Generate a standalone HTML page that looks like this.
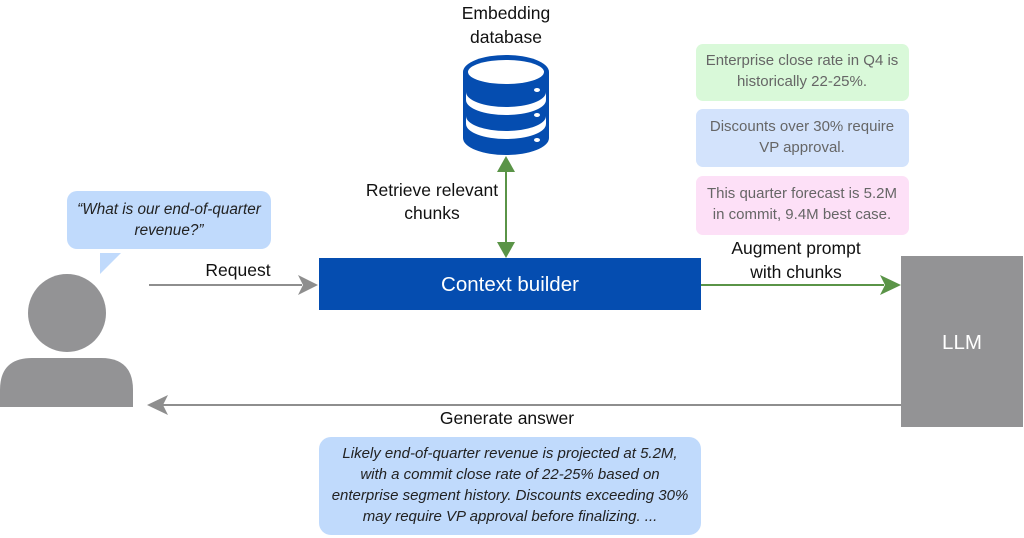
<!DOCTYPE html>
<html><head><meta charset="utf-8"><style>html,body{margin:0;padding:0;background:#fff}svg{display:block}text{font-family:"Liberation Sans",Arial,sans-serif}</style></head>
<body>
<svg width="1024" height="538" viewBox="0 0 1024 538" xmlns="http://www.w3.org/2000/svg">
<!-- person -->
<circle cx="67" cy="313" r="39" fill="#939395"/>
<path d="M0,407 L0,390 Q0,358 32,358 L101,358 Q133,358 133,390 L133,407 Z" fill="#939395"/>
<!-- bubble -->
<rect x="67" y="191" width="204" height="58" rx="10" fill="#c0dafc"/>
<polygon points="100,253 121,253 100,274" fill="#c0dafc"/>
<text x="169" y="214" font-size="15.3" font-style="italic" text-anchor="middle" fill="#222">“What is our end-of-quarter</text>
<text x="169" y="235" font-size="15.3" font-style="italic" text-anchor="middle" fill="#222">revenue?”</text>
<!-- request arrow -->
<line x1="149" y1="285" x2="302" y2="285" stroke="#8e8e8e" stroke-width="2"/>
<polygon points="318,285 298,275 303,285 298,295" fill="#8e8e8e"/>
<text x="238" y="276" font-size="17.5" text-anchor="middle" fill="#111">Request</text>
<!-- context builder -->
<rect x="319" y="258" width="382" height="52" fill="#054db0"/>
<text x="510" y="291" font-size="20.5" text-anchor="middle" fill="#fff">Context builder</text>
<!-- database -->
<text x="506" y="19" font-size="17.5" text-anchor="middle" fill="#111">Embedding</text>
<text x="506" y="43" font-size="17.5" text-anchor="middle" fill="#111">database</text>
<path d="M463,72 A43,17 0 0 1 549,72 L549,138 A43,17 0 0 1 463,138 Z" fill="#054db0"/>
<ellipse cx="506" cy="72" rx="38" ry="12" fill="#fff"/>
<ellipse cx="506" cy="72" rx="34" ry="9" fill="#fff"/>
<path d="M466,92 A40,15 0 0 0 546,92 L546,100 A40,15 0 0 1 466,100 Z" fill="#fff"/>
<path d="M466,116 A40,15 0 0 0 546,116 L546,124 A40,15 0 0 1 466,124 Z" fill="#fff"/>
<ellipse cx="537" cy="90" rx="3" ry="2" fill="#fff"/>
<ellipse cx="537" cy="115" rx="3" ry="2" fill="#fff"/>
<ellipse cx="537" cy="140" rx="3" ry="2" fill="#fff"/>
<!-- vertical green arrow -->
<line x1="506" y1="170" x2="506" y2="244" stroke="#5a9447" stroke-width="2"/>
<polygon points="506,156 497,172 515,172" fill="#5a9447"/>
<polygon points="506,258 497,242 515,242" fill="#5a9447"/>
<text x="432" y="196" font-size="17.5" text-anchor="middle" fill="#111">Retrieve relevant</text>
<text x="432" y="219" font-size="17.5" text-anchor="middle" fill="#111">chunks</text>
<!-- notes -->
<rect x="696" y="44" width="213" height="57" rx="7" fill="#d9f9d9"/>
<text x="802" y="65" font-size="15" text-anchor="middle" fill="#666">Enterprise close rate in Q4 is</text>
<text x="802" y="86" font-size="15" text-anchor="middle" fill="#666">historically 22-25%.</text>
<rect x="696" y="109" width="213" height="58" rx="7" fill="#d3e3fc"/>
<text x="802" y="131" font-size="15" text-anchor="middle" fill="#666">Discounts over 30% require</text>
<text x="802" y="152" font-size="15" text-anchor="middle" fill="#666">VP approval.</text>
<rect x="696" y="176" width="213" height="59" rx="7" fill="#fde0f7"/>
<text x="802" y="198" font-size="15" text-anchor="middle" fill="#666">This quarter forecast is 5.2M</text>
<text x="802" y="219" font-size="15" text-anchor="middle" fill="#666">in commit, 9.4M best case.</text>
<!-- augment arrow -->
<line x1="701" y1="285" x2="884" y2="285" stroke="#5a9447" stroke-width="2"/>
<polygon points="901,285 880,275 885,285 880,295" fill="#5a9447"/>
<text x="796" y="254" font-size="17.5" text-anchor="middle" fill="#111">Augment prompt</text>
<text x="796" y="278" font-size="17.5" text-anchor="middle" fill="#111">with chunks</text>
<!-- LLM -->
<rect x="901" y="256" width="122" height="171" fill="#939395"/>
<text x="962" y="349" font-size="20.5" text-anchor="middle" fill="#fff">LLM</text>
<!-- generate answer -->
<line x1="163" y1="405" x2="901" y2="405" stroke="#8e8e8e" stroke-width="2"/>
<polygon points="147,405 168,395 163,405 168,415" fill="#8e8e8e"/>
<text x="507" y="424" font-size="17.5" text-anchor="middle" fill="#111">Generate answer</text>
<!-- answer -->
<rect x="319" y="437" width="382" height="98" rx="12" fill="#c0dafc"/>
<g font-size="15" font-style="italic" text-anchor="middle" fill="#222">
<text x="510" y="458">Likely end-of-quarter revenue is projected at 5.2M,</text>
<text x="510" y="479">with a commit close rate of 22-25% based on</text>
<text x="510" y="500">enterprise segment history. Discounts exceeding 30%</text>
<text x="510" y="521">may require VP approval before finalizing. ...</text>
</g>
</svg>
</body></html>
